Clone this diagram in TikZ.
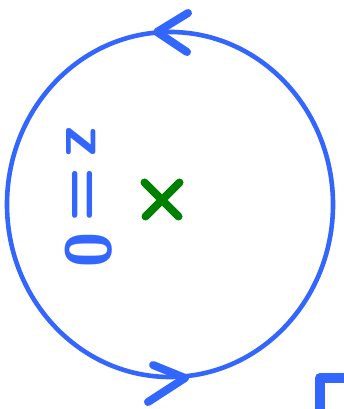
\documentclass[tikz,border=0pt]{standalone}
\usepackage{tikz}
\usetikzlibrary{calc}
\definecolor{trait}{HTML}{3366FF}
\definecolor{pole}{HTML}{008000}
\tikzset{
  contour/.style={draw=trait, line width=4.6pt},
  fleche/.style={draw=trait, line width=8pt, line cap=round, line join=round},
  croix/.style={draw=pole, line width=8pt, line cap=round},
  etiquette/.style={text=trait, font=\fontsize{64}{64}\selectfont\sffamily\bfseries,
    rotate=-90, inner sep=0pt}
}
\begin{document}
\begin{tikzpicture}[x=1pt, y=1pt]
    \useasboundingbox (0,0) rectangle (344,409);
    \coordinate (centre) at (170,204.5);
    \draw[contour] (centre) ellipse [x radius=163, y radius=172.5];

    % sens de parcours
    \coordinate (haut) at (157,377);
    \draw[fleche] (188,396) -- (haut) -- (187,357);
    \coordinate (bas) at (185,31);
    \draw[fleche] (153,44) -- (bas) -- (148,7);

    % le point
    \node[inner sep=0pt] (p) at (161.5,209.5) {};
    \draw[croix] ($(p)+(-17,17)$) -- ($(p)+(17,-17)$);
    \draw[croix] ($(p)+(18,17)$) -- ($(p)+(-16,-17)$);

    \node[etiquette] (z) at (89,212) {z\,=\,0};

    % bord du Gamma
    \draw[trait, line width=10pt, line join=round] (320,-5) -- (320,31) -- (350,31);
\end{tikzpicture}
\end{document}
